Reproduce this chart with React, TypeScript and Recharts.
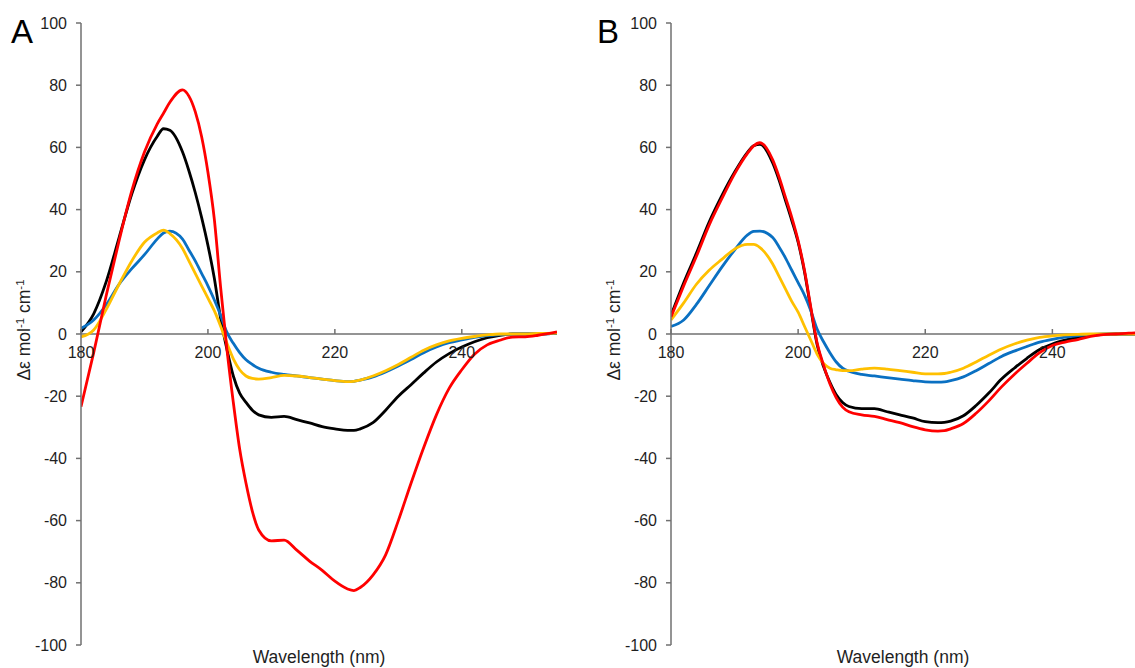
import React from 'react';
import { LineChart, Line, XAxis, YAxis, ReferenceLine } from 'recharts';

// wavelength (nm) shared by every trace
const WAVELENGTH = [
  180, 182, 184, 186, 188, 190, 192, 193, 194, 196,
  197, 198, 199, 200, 201, 202, 203, 204, 205, 206,
  207, 208, 210, 212, 214, 216, 218, 220, 222, 223,
  224, 226, 228, 230, 232, 234, 236, 238, 240, 242,
  244, 246, 248, 250, 252, 255,
];

// Panel A
const A_BLACK = [
  0.7, 6.5, 17, 31, 45, 56, 63.5, 66, 65.5, 58.5,
  52.5, 45.5, 37.5, 28.5, 18, 5, -5, -13.5, -19, -22,
  -24.5, -26, -26.8, -26.5, -27.5, -28.6, -29.8, -30.5, -31, -31,
  -30.5, -28.5, -24.5, -20, -16.3, -12.5, -9, -6.3, -4.2, -2.5,
  -1.2, -0.4, 0, 0, 0, 0.3,
];
const A_RED = [
  -23.4, -6, 12.6, 30, 46, 58.5, 67.5, 71, 74.5, 78.5,
  76.5, 71.5, 63.5, 52, 37, 15, -5, -22, -37, -48,
  -57, -63, -66.5, -66.3, -69.5, -73, -76, -79.5, -82, -82.5,
  -81.5, -77.5, -71, -60, -48, -36.5, -26, -17.5, -11.5, -6.5,
  -3.5, -2, -1, -0.9, -0.4, 0.7,
];
const A_BLUE = [
  1.8, 4.5, 9.5, 16, 21, 25.5, 30.5, 32.5, 33.1, 30.5,
  27, 23.5, 19.5, 15.5, 11, 6, 0.5, -3, -6, -8.3,
  -9.8, -11, -12.3, -13, -13.5, -14, -14.5, -15, -15.3, -15.2,
  -14.8, -13.8, -12.2, -10.3, -8.2, -6, -4.2, -2.8, -1.9, -1.1,
  -0.5, -0.2, 0, 0, 0, 0.2,
];
const A_YELLOW = [
  -0.9, 1.3, 8, 16, 23.5, 29.5, 32.5, 33.4, 32.3, 27.5,
  23.5, 19.5, 15.5, 11.5, 7.5, 2.5, -3, -8, -11.5, -13.5,
  -14.3, -14.5, -14, -13.3, -13.5, -14, -14.5, -15, -15.3, -15.2,
  -14.8, -13.5, -11.8, -9.8, -7.5, -5.2, -3.5, -2.2, -1.4, -0.8,
  -0.3, 0, 0, 0, 0.2, 0.3,
];

// Panel B
const B_BLACK = [
  6, 16.5, 26, 36, 44.5, 52, 58.3, 60.5, 61, 55,
  49.5, 43, 36.5, 29.5, 20, 8, -3.5, -10.5, -15.5, -19.5,
  -22, -23.3, -24, -24, -25, -26, -27, -28.2, -28.5, -28.4,
  -28, -26.3, -23, -19, -14.5, -11, -7.8, -5, -3.2, -2,
  -1.1, -0.5, -0.1, 0, 0, 0,
];
const B_RED = [
  5.5, 15.5, 25, 35, 43.5, 51.5, 58, 60.5, 61.5, 56,
  50.5, 44, 37.5, 30, 20.5, 8.5, -3, -10, -16, -20.5,
  -23.5, -25, -26, -26.5, -27.5, -28.5, -29.8, -30.8, -31.2, -31.1,
  -30.5, -28.8, -25.5, -21.5, -17, -13, -9.4, -6, -3.7, -2.6,
  -1.8, -0.8, -0.2, 0, 0.3, 0.5,
];
const B_BLUE = [
  2.4, 4.5, 9.5, 15.5, 21.5, 27, 31.8, 33, 33.1, 31,
  28, 24.5, 20.5, 16.5, 12.5, 7.5, 1.5, -2.5, -6, -9,
  -11, -12, -13, -13.5, -14, -14.5, -15, -15.4, -15.5, -15.4,
  -15, -13.8, -11.8, -9.5, -7.2, -5.5, -4, -2.6, -1.7, -1,
  -0.5, -0.2, 0, 0, 0, 0,
];
const B_YELLOW = [
  4.5, 10, 16, 20.5, 24, 27.3, 28.8, 28.8, 27.8, 22.5,
  18.5, 14.5, 10.5, 7, 2.5, -2, -6.5, -9.5, -11, -11.5,
  -11.8, -11.8, -11.3, -11, -11.3, -11.8, -12.3, -12.8, -12.8, -12.7,
  -12.3, -11, -9, -6.8, -4.8, -3.2, -2, -1.1, -0.6, -0.3,
  -0.1, 0, 0, 0, 0, 0,
];

const X_TICKS = [180, 200, 220, 240];
const Y_TICKS = [-100, -80, -60, -40, -20, 0, 20, 40, 60, 80, 100];
const Y_MIN = -100;
const Y_MAX = 100;

const COLORS = {
  black: '#000000',
  red: '#ff0000',
  blue: '#0a70c2',
  yellow: '#ffc000',
};

const FONT = '"Liberation Sans", Arial, Helvetica, sans-serif';
const AXIS_COLOR = '#707070';
const TEXT_COLOR = '#1f1f1f';

// layout of each panel's plot area
const PLOT_TOP = 23;
const PLOT_BOTTOM_MARGIN = 23;
const CHART_H = 668;
const PLOT_H = CHART_H - PLOT_TOP - PLOT_BOTTOM_MARGIN;
const Y_ZERO = PLOT_TOP + (PLOT_H * Y_MAX) / (Y_MAX - Y_MIN);

const buildRows = (black: number[], red: number[], blue: number[], yellow: number[]) =>
  WAVELENGTH.map((w, i) => ({ w, black: black[i], red: red[i], blue: blue[i], yellow: yellow[i] }));

const rowsA = buildRows(A_BLACK, A_RED, A_BLUE, A_YELLOW);
const rowsB = buildRows(B_BLACK, B_RED, B_BLUE, B_YELLOW);

// x ticks sit on the zero line, tick marks point up
const renderXTick = (props: any) => {
  const { x, payload } = props;
  return (
    <g key={`xt-${payload.value}`}>
      <line x1={x} x2={x} y1={Y_ZERO - 5} y2={Y_ZERO} stroke={AXIS_COLOR} strokeWidth={1.5} />
      <text x={x} y={Y_ZERO + 24} textAnchor="middle" fill={TEXT_COLOR} fontSize={16} fontFamily={FONT}>
        {payload.value}
      </text>
    </g>
  );
};

function Panel({ rows, width, xMax, marginRight }: { rows: any[]; width: number; xMax: number; marginRight: number }) {
  return (
    <LineChart
      width={width}
      height={CHART_H}
      data={rows}
      margin={{ top: PLOT_TOP, right: marginRight, bottom: 0, left: 21 }}
    >
      <XAxis
        dataKey="w"
        type="number"
        domain={[180, xMax]}
        allowDataOverflow
        ticks={X_TICKS}
        axisLine={false}
        tickLine={false}
        height={PLOT_BOTTOM_MARGIN}
        tick={renderXTick}
        label={{
          value: 'Wavelength (nm)',
          position: 'insideBottom',
          offset: 5,
          fill: TEXT_COLOR,
          fontSize: 17.5,
          fontFamily: FONT,
        }}
      />
      <YAxis
        type="number"
        domain={[Y_MIN, Y_MAX]}
        ticks={Y_TICKS}
        width={60}
        tickSize={5}
        tickMargin={9}
        axisLine={{ stroke: AXIS_COLOR, strokeWidth: 1.5 }}
        tickLine={{ stroke: AXIS_COLOR, strokeWidth: 1.5 }}
        tick={{ fill: TEXT_COLOR, fontSize: 16, fontFamily: FONT }}
      />
      <ReferenceLine y={0} stroke={AXIS_COLOR} strokeWidth={1.5} />
      <Line type="monotone" dataKey="black" stroke={COLORS.black} strokeWidth={2.8} dot={false} activeDot={false} isAnimationActive={false} />
      <Line type="monotone" dataKey="blue" stroke={COLORS.blue} strokeWidth={2.8} dot={false} activeDot={false} isAnimationActive={false} />
      <Line type="monotone" dataKey="yellow" stroke={COLORS.yellow} strokeWidth={2.8} dot={false} activeDot={false} isAnimationActive={false} />
      <Line type="monotone" dataKey="red" stroke={COLORS.red} strokeWidth={2.8} dot={false} activeDot={false} isAnimationActive={false} />
    </LineChart>
  );
}

const YLabel = ({ x }: { x: number }) => (
  <text
    transform={`translate(${x},${Y_ZERO - 4}) rotate(-90)`}
    textAnchor="middle"
    fill={TEXT_COLOR}
    fontSize={17.5}
    fontFamily={FONT}
  >
    Δε mol<tspan baselineShift="super" fontSize={11.5}>-1</tspan> cm<tspan baselineShift="super" fontSize={11.5}>-1</tspan>
  </text>
);

export default function App() {
  return (
    <div style={{ position: 'absolute', left: 0, top: 0, width: 1135, height: 668, background: '#fff', overflow: 'hidden' }}>
      <div style={{ position: 'absolute', left: 0, top: 0 }}>
        <Panel rows={rowsA} width={590} xMax={255} marginRight={33} />
      </div>
      <div style={{ position: 'absolute', left: 590, top: 0 }}>
        <Panel rows={rowsB} width={545} xMax={253} marginRight={0} />
      </div>
      <svg width={1135} height={668} style={{ position: 'absolute', left: 0, top: 0, pointerEvents: 'none' }}>
        <text x={11} y={43} fontSize={33} fontFamily={FONT} fill="#000">A</text>
        <text x={597} y={43} fontSize={33} fontFamily={FONT} fill="#000">B</text>
        <YLabel x={30} />
        <YLabel x={620} />
      </svg>
    </div>
  );
}
